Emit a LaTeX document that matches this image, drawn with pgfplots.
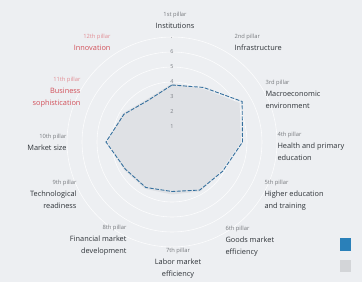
\documentclass[border=0pt]{standalone}
\usepackage{pgfplots}
\pgfplotsset{compat=1.18}
\usepgfplotslibrary{polar}
\usepackage{fontspec}
\setmainfont{Open Sans}
\definecolor{bgcol}{HTML}{EDEFF2}
\definecolor{regiongray}{HTML}{DFE1E5}
\definecolor{lineblue}{HTML}{35709E}
\definecolor{legblue}{HTML}{2A80B9}
\definecolor{leggray}{HTML}{D3D5D8}
\definecolor{labred}{HTML}{D2505A}
\definecolor{pillargray}{HTML}{7A7E84}
\definecolor{labgray}{HTML}{2E3338}
\newcommand{\pl}[2][labgray]{{\color{#1!65}\fontsize{5.8}{8}\selectfont #2}}
\newcommand{\nm}[2][labgray]{{\color{#1}\fontsize{7.4}{10}\selectfont #2}}
\begin{document}
\begin{tikzpicture}[x=1bp,y=1bp]
\useasboundingbox (0,0) rectangle (362,282);
\fill[bgcol] (0,0) rectangle (362,282);
\begin{polaraxis}[
  at={(172bp,140bp)}, anchor=origin,
  width=210bp, height=210bp, scale only axis,
  ymin=0, ymax=7,
  xtick={0,30,...,330}, xticklabels={},
  ytick={1,...,7}, yticklabels={},
  ymajorgrids=true, xmajorgrids=false,
  major grid style={white, line width=0.6pt, opacity=0.85},
  axis line style={draw=none}, tick style={draw=none},
]
\addplot[fill=regiongray, draw=none] coordinates {
(90,3.9) (60,4.1) (30,5.2) (0,4.6) (-30,3.8) (-60,3.8) (-90,3.5) (-120,3.6) (-150,3.7) (180,4.3) (150,3.8) (120,3.3) (90,3.9)};
\addplot[draw=lineblue, line width=0.9pt, dash pattern=on 4pt off 1.5pt] coordinates {
(90,3.8) (60,4.2) (30,5.4) (0,4.7) (-30,3.9) (-60,3.7) (-90,3.3) (-120,3.5) (-150,3.6) (180,4.4) (150,3.7) (120,3.2) (90,3.8)};
\pgfplotsinvokeforeach{1,...,7}{
  \node[font=\fontsize{5.5}{6}\selectfont, text=pillargray, inner sep=0.5pt] at (axis cs:90,#1) {#1};
}
\end{polaraxis}
\node[align=center, anchor=center] at (175,262) {\pl{1st pillar}\\\nm{Institutions}};
\node[align=left, anchor=west] at (231,240) {\pl{2nd pillar}\\\nm{Infrastructure}};
\node[align=left, anchor=west] at (262,188) {\pl{3rd pillar}\\\nm{Macroeconomic}\\\nm{environment}};
\node[align=left, anchor=west] at (274,136) {\pl{4th pillar}\\\nm{Health and primary}\\\nm{education}};
\node[align=left, anchor=west] at (261,87) {\pl{5th pillar}\\\nm{Higher education}\\\nm{and training}};
\node[align=left, anchor=west] at (222,41) {\pl{6th pillar}\\\nm{Goods market}\\\nm{efficiency}};
\node[align=center, anchor=center] at (178,19) {\pl{7th pillar}\\\nm{Labor market}\\\nm{efficiency}};
\node[align=right, anchor=east] at (130,42) {\pl{8th pillar}\\\nm{Financial market}\\\nm{development}};
\node[align=right, anchor=east] at (80,88) {\pl{9th pillar}\\\nm{Technological}\\\nm{readiness}};
\node[align=right, anchor=east] at (70,140) {\pl{10th pillar}\\\nm{Market size}};
\node[align=right, anchor=east] at (84,190) {\pl[labred]{11th pillar}\\\nm[labred]{Business}\\\nm[labred]{sophistication}};
\node[align=right, anchor=east] at (114,240) {\pl[labred]{12th pillar}\\\nm[labred]{Innovation}};
\fill[legblue] (340,31) rectangle (351,44);
\fill[leggray] (340,10) rectangle (351,22);
\end{tikzpicture}
\end{document}
